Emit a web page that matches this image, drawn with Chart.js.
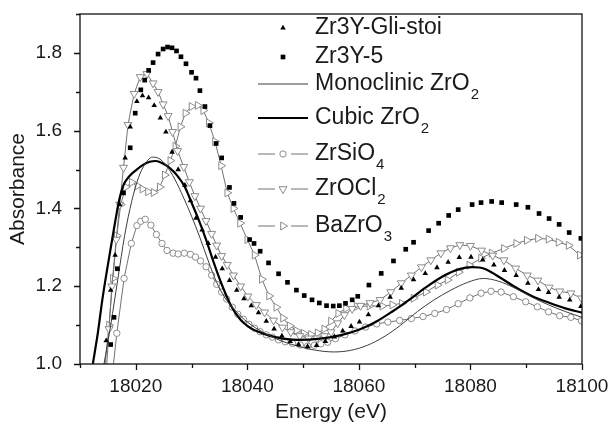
<!DOCTYPE html>
<html lang="en">
<head>
  <meta charset="UTF-8" />
  <title>Zr K-edge XANES</title>
  <script src="https://cdn.jsdelivr.net/npm/chart.js"></script>
  <style>
    html, body { margin: 0; padding: 0; background: #fff; }
    .chart-box { position: relative; width: 612px; height: 425px; }
  </style>
</head>
<body>
  <div class="chart-box"><canvas id="xanesChart"></canvas></div>

  <script>
    // Zr3Y-Gli-stoi (filled triangles)
    const gliE = [18014.7, 18015.5, 18016.3, 18017.1, 18018.1, 18019.0, 18020.2, 18021.2, 18022.3, 18023.3,
      18024.4, 18025.4, 18026.5, 18027.6, 18028.8, 18029.8, 18030.8, 18031.9, 18033.0, 18034.3,
      18035.5, 18036.8, 18038.1, 18039.4, 18040.7, 18042.0, 18043.4, 18044.8, 18046.2, 18047.7,
      18049.2, 18050.8, 18052.4, 18054.0, 18055.6, 18057.1, 18058.6, 18060.1, 18061.7, 18063.5,
      18065.6, 18067.6, 18069.8, 18071.9, 18074.0, 18076.0, 18078.0, 18080.1, 18082.2, 18084.2,
      18086.1, 18088.2, 18090.3, 18092.2, 18094.0, 18095.9, 18097.8, 18099.8];
    const gliA = [1.06, 1.19, 1.28, 1.41, 1.53, 1.61, 1.675, 1.69, 1.685, 1.665,
      1.633, 1.597, 1.545, 1.50, 1.46, 1.42, 1.375, 1.345, 1.31, 1.275,
      1.245, 1.215, 1.19, 1.168, 1.15, 1.132, 1.11, 1.09, 1.072, 1.058,
      1.05, 1.045, 1.048, 1.058, 1.07, 1.085, 1.097, 1.108, 1.127, 1.15,
      1.172, 1.195, 1.217, 1.233, 1.248, 1.262, 1.274, 1.275, 1.268, 1.255,
      1.241, 1.228, 1.208, 1.192, 1.184, 1.172, 1.165, 1.148];

    // Zr3Y-5 (filled squares)
    const y5E = [18015.5, 18016.1, 18016.7, 18017.8, 18019.0, 18019.9, 18020.9, 18021.6, 18022.3, 18023.1,
      18024.0, 18024.9, 18025.7, 18026.5, 18027.3, 18028.1, 18029.0, 18030.0, 18030.8, 18031.5,
      18032.4, 18033.3, 18034.4, 18035.4, 18036.8, 18037.6, 18038.8, 18040.4, 18041.2, 18042.3,
      18043.8, 18045.6, 18047.2, 18048.8, 18050.2, 18051.6, 18052.9, 18054.2, 18055.4, 18056.5,
      18057.6, 18058.8, 18059.8, 18061.8, 18064.0, 18066.2, 18068.4, 18069.8, 18072.5, 18074.3,
      18076.1, 18077.8, 18080.3, 18081.9, 18083.8, 18085.6, 18088.2, 18090.3, 18092.3, 18094.1,
      18095.9, 18097.7, 18099.8];
    const y5A = [1.05, 1.12, 1.245, 1.44, 1.556, 1.645, 1.705, 1.73, 1.755, 1.775,
      1.797, 1.81, 1.815, 1.813, 1.805, 1.79, 1.772, 1.75, 1.735, 1.703,
      1.662, 1.613, 1.567, 1.53, 1.454, 1.413, 1.377, 1.32, 1.31, 1.29,
      1.26, 1.232, 1.21, 1.19, 1.176, 1.165, 1.157, 1.15, 1.149, 1.15,
      1.156, 1.165, 1.174, 1.203, 1.233, 1.265, 1.295, 1.313, 1.343, 1.362,
      1.382, 1.397, 1.41, 1.415, 1.418, 1.415, 1.41, 1.403, 1.387, 1.374,
      1.359, 1.338, 1.323];

    // Monoclinic ZrO2 reference (thin line)
    const monoE = [18014.3, 18015.5, 18016.8, 18018.0, 18019.3, 18020.5, 18021.7, 18023.0, 18024.2, 18025.5,
      18027.0, 18028.5, 18030.0, 18031.5, 18033.0, 18034.5, 18036.0, 18038.0, 18040.0, 18043.0,
      18046.0, 18049.0, 18052.0, 18055.5, 18058.5, 18061.5, 18064.5, 18067.5, 18070.5, 18073.5,
      18076.5, 18079.5, 18082.3, 18085.0, 18088.0, 18091.0, 18094.0, 18097.0, 18100.0];
    const monoA = [1.0, 1.10, 1.22, 1.33, 1.42, 1.48, 1.515, 1.532, 1.528, 1.51,
      1.475, 1.43, 1.38, 1.325, 1.265, 1.21, 1.17, 1.135, 1.108, 1.08,
      1.06, 1.046, 1.036, 1.031, 1.035, 1.048, 1.07, 1.10, 1.135, 1.165,
      1.19, 1.21, 1.22, 1.213, 1.195, 1.172, 1.152, 1.135, 1.12];

    // Cubic ZrO2 reference (thick line)
    const cubicE = [18012.3, 18013.2, 18014.0, 18015.0, 18016.0, 18017.0, 18017.8, 18018.8, 18020.0, 18021.3,
      18022.5, 18023.6, 18024.8, 18026.0, 18027.4, 18028.8, 18030.0, 18031.3, 18032.6, 18034.0,
      18035.4, 18037.0, 18038.7, 18040.5, 18042.5, 18045.0, 18049.0, 18053.5, 18057.0, 18060.0,
      18063.0, 18066.0, 18069.0, 18072.0, 18075.0, 18078.0, 18080.3, 18082.5, 18085.0, 18088.0,
      18091.0, 18094.0, 18097.0, 18100.0];
    const cubicA = [1.0, 1.08, 1.165, 1.255, 1.34, 1.42, 1.46, 1.482, 1.498, 1.512,
      1.52, 1.522, 1.516, 1.505, 1.485, 1.455, 1.415, 1.37, 1.32, 1.26,
      1.205, 1.152, 1.115, 1.093, 1.08, 1.069, 1.062, 1.066, 1.075, 1.088,
      1.108, 1.135, 1.165, 1.197, 1.225, 1.244, 1.249, 1.245, 1.225, 1.198,
      1.175, 1.158, 1.143, 1.132];

    // ZrSiO4 (open circles)
    const sioE = [18016.0, 18016.6, 18017.9, 18019.2, 18020.2, 18020.9, 18021.7, 18022.7, 18023.7, 18024.7,
      18025.6, 18026.7, 18027.6, 18028.7, 18029.8, 18030.7, 18031.6, 18032.6, 18033.6, 18034.5,
      18035.4, 18036.3, 18037.3, 18038.3, 18039.3, 18040.3, 18041.3, 18042.3, 18043.4, 18044.5,
      18045.6, 18046.8, 18048.1, 18049.5, 18050.8, 18052.0, 18053.2, 18054.4, 18055.8, 18057.5,
      18059.3, 18061.2, 18063.2, 18065.2, 18067.3, 18069.4, 18071.5, 18073.6, 18075.7, 18077.8,
      18079.9, 18081.9, 18083.7, 18085.5, 18087.7, 18089.9, 18092.0, 18094.0, 18096.0, 18098.0,
      18099.9];
    const sioA = [1.0, 1.079, 1.22, 1.31, 1.356, 1.367, 1.372, 1.357, 1.333, 1.31,
      1.292, 1.285, 1.283, 1.285, 1.282, 1.275, 1.265, 1.25, 1.228, 1.205,
      1.185, 1.167, 1.146, 1.128, 1.115, 1.102, 1.092, 1.083, 1.075, 1.069,
      1.062, 1.057, 1.053, 1.049, 1.046, 1.048, 1.052, 1.056, 1.065, 1.075,
      1.085, 1.095, 1.103, 1.108, 1.112, 1.117, 1.122, 1.13, 1.14, 1.155,
      1.17, 1.182, 1.187, 1.185, 1.173, 1.16, 1.147, 1.134, 1.124, 1.12,
      1.111];

    // ZrOCl2 (open down triangles)
    const oclE = [18014.8, 18015.2, 18015.7, 18016.5, 18017.1, 18017.8, 18018.6, 18019.7, 18020.8, 18022.0,
      18023.1, 18024.0, 18024.9, 18025.8, 18026.6, 18027.5, 18028.6, 18029.6, 18030.6, 18031.6,
      18032.6, 18033.6, 18034.5, 18035.4, 18036.4, 18037.5, 18038.8, 18040.1, 18041.6, 18043.1,
      18044.7, 18046.3, 18047.8, 18049.4, 18051.0, 18052.5, 18053.8, 18055.0, 18056.2, 18057.4,
      18058.8, 18060.3, 18062.0, 18063.8, 18065.7, 18067.6, 18069.4, 18071.2, 18072.9, 18074.7,
      18076.4, 18078.1, 18080.0, 18082.0, 18084.0, 18086.0, 18088.1, 18090.2, 18092.1, 18094.1,
      18096.0, 18098.0, 18099.9];
    const oclA = [1.0, 1.09, 1.20, 1.32, 1.41, 1.505, 1.615, 1.695, 1.738, 1.746,
      1.722, 1.70, 1.668, 1.638, 1.597, 1.548, 1.507, 1.468, 1.432, 1.40,
      1.368, 1.335, 1.305, 1.278, 1.255, 1.228, 1.20, 1.174, 1.152, 1.133,
      1.112, 1.094, 1.082, 1.072, 1.066, 1.066, 1.072, 1.082, 1.105, 1.126,
      1.142, 1.15, 1.157, 1.165, 1.185, 1.208, 1.228, 1.249, 1.267, 1.285,
      1.298, 1.306, 1.304, 1.292, 1.279, 1.267, 1.246, 1.228, 1.215, 1.197,
      1.187, 1.182, 1.169];

    // BaZrO3 (open right triangles)
    const bzoE = [18014.5, 18015.2, 18015.9, 18016.6, 18017.3, 18018.2, 18019.3, 18020.3, 18021.2, 18022.2,
      18023.2, 18024.3, 18025.2, 18026.2, 18027.1, 18028.0, 18028.9, 18030.0, 18031.1, 18032.1,
      18033.1, 18034.2, 18035.3, 18036.4, 18037.5, 18038.7, 18040.0, 18041.3, 18042.6, 18043.9,
      18045.2, 18046.4, 18047.6, 18048.8, 18050.1, 18051.4, 18052.6, 18053.8, 18055.0, 18056.3,
      18057.7, 18059.6, 18061.9, 18064.2, 18066.0, 18067.7, 18069.8, 18072.0, 18074.1, 18075.9,
      18077.9, 18079.8, 18081.9, 18083.8, 18086.0, 18088.2, 18090.1, 18092.1, 18094.0, 18095.8,
      18097.6, 18099.6];
    const bzoA = [1.0, 1.10, 1.22, 1.33, 1.41, 1.455, 1.467, 1.458, 1.45, 1.443,
      1.441, 1.455, 1.486, 1.523, 1.56, 1.61, 1.645, 1.662, 1.665, 1.652,
      1.62, 1.572, 1.51, 1.44, 1.40, 1.362, 1.32, 1.28, 1.218, 1.175,
      1.146, 1.118, 1.098, 1.086, 1.079, 1.076, 1.08, 1.09, 1.11, 1.13,
      1.143, 1.148, 1.149, 1.149, 1.152, 1.156, 1.169, 1.185, 1.203, 1.216,
      1.236, 1.254, 1.272, 1.285, 1.297, 1.31, 1.318, 1.323, 1.321, 1.313,
      1.305, 1.28];

    const FONT = "'Liberation Sans', Arial, Helvetica, sans-serif";
    const INK = '#1a1a1a';
    const GREY_LINE = '#727272';
    const GREY_MARK = '#8c8c8c';

    // "_" splits a label into body and subscript
    const series = [
      { label: 'Zr3Y-Gli-stoi', e: gliE, a: gliA, kind: 'dots', style: 'triangle', rot: 0, r: 3.2, fill: '#000', edge: '#000' },
      { label: 'Zr3Y-5', e: y5E, a: y5A, kind: 'dots', style: 'rect', rot: 0, r: 3.3, fill: '#000', edge: '#000' },
      { label: 'Monoclinic ZrO_2', e: monoE, a: monoA, kind: 'smooth', line: '#3c3c3c', width: 1 },
      { label: 'Cubic ZrO_2', e: cubicE, a: cubicA, kind: 'smooth', line: '#000', width: 2.2 },
      { label: 'ZrSiO_4', e: sioE, a: sioA, kind: 'marked', style: 'circle', rot: 0, r: 3.2, fill: '#fff', edge: GREY_MARK, line: GREY_LINE, width: 1 },
      { label: 'ZrOCl_2', e: oclE, a: oclA, kind: 'marked', style: 'triangle', rot: 180, r: 4.6, fill: '#fff', edge: GREY_MARK, line: GREY_LINE, width: 1 },
      { label: 'BaZrO_3', e: bzoE, a: bzoA, kind: 'marked', style: 'triangle', rot: 90, r: 4.6, fill: '#fff', edge: GREY_MARK, line: GREY_LINE, width: 1 }
    ];

    const datasets = series.map(s => ({
      label: s.label.replace('_', ''),
      data: s.e.map((e, i) => ({ x: e, y: s.a[i] })),
      showLine: s.kind !== 'dots',
      borderColor: s.line || s.edge,
      borderWidth: s.width || 1,
      pointStyle: s.style || 'circle',
      pointRotation: s.rot || 0,
      // the line start on the baseline carries no marker
      pointRadius: c => (s.style && c.raw && c.raw.y > 1.0) ? s.r : 0,
      pointHoverRadius: 0,
      pointBackgroundColor: s.fill,
      pointBorderColor: s.edge,
      pointBorderWidth: s.kind === 'dots' ? 0 : 1,
      tension: s.kind === 'smooth' ? 0.4 : 0,
      cubicInterpolationMode: s.kind === 'smooth' ? 'monotone' : 'default'
    }));

    // box frame plus outward ticks (long = labelled, short = minor)
    const frameTicks = {
      id: 'frameTicks',
      afterDatasetsDraw(chart) {
        const { ctx, chartArea: a, scales: { x, y } } = chart;
        ctx.save();
        ctx.strokeStyle = '#111';
        ctx.lineWidth = 1.3;
        ctx.strokeRect(a.left, a.top, a.right - a.left, a.bottom - a.top);
        ctx.beginPath();
        x.ticks.forEach(t => {
          const px = Math.round(x.getPixelForValue(t.value)) + 0.5;
          ctx.moveTo(px, a.bottom);
          ctx.lineTo(px, a.bottom + (t.label ? 6 : 4));
        });
        y.ticks.forEach(t => {
          const py = Math.round(y.getPixelForValue(t.value)) + 0.5;
          ctx.moveTo(a.left, py);
          ctx.lineTo(a.left - (t.label ? 6 : 4), py);
        });
        ctx.stroke();
        ctx.restore();
      }
    };

    const legendY = [28, 57, 84, 118, 154, 189, 226];

    function drawLabel(ctx, text, x, y) {
      const [body, sub] = text.split('_');
      ctx.fillStyle = INK;
      ctx.textAlign = 'left';
      ctx.textBaseline = 'middle';
      ctx.font = '23px ' + FONT;
      ctx.fillText(body, x, y);
      if (sub) {
        const w = ctx.measureText(body).width;
        ctx.font = '15px ' + FONT;
        ctx.fillText(sub, x + w + 1, y + 11);
      }
    }

    const sampleLegend = {
      id: 'sampleLegend',
      afterDraw(chart) {
        const ctx = chart.ctx;
        const x0 = 258, x1 = 308, xm = 283, tx = 315;
        series.forEach((s, i) => {
          const yc = legendY[i];
          ctx.save();
          if (s.kind !== 'dots') {
            ctx.strokeStyle = s.line;
            ctx.lineWidth = s.width;
            ctx.beginPath();
            if (s.style) {
              ctx.moveTo(x0, yc); ctx.lineTo(xm - 8, yc);
              ctx.moveTo(xm + 8, yc); ctx.lineTo(x1, yc);
            } else {
              ctx.moveTo(x0, yc); ctx.lineTo(x1, yc);
            }
            ctx.stroke();
          }
          if (s.style) {
            ctx.fillStyle = s.fill;
            ctx.strokeStyle = s.edge;
            ctx.lineWidth = 1;
            Chart.helpers.drawPoint(ctx, {
              pointStyle: s.style, rotation: s.rot, radius: s.r,
              borderWidth: s.kind === 'dots' ? 0 : 1
            }, xm, yc);
          }
          drawLabel(ctx, s.label, tx, yc);
          ctx.restore();
        });
      }
    };

    new Chart(document.getElementById('xanesChart'), {
      type: 'line',
      data: { datasets },
      plugins: [frameTicks, sampleLegend],
      options: {
        responsive: true,
        maintainAspectRatio: false,
        animation: false,
        events: [],
        layout: { padding: { top: 14, right: 30, left: 0, bottom: 0 } },
        plugins: { legend: { display: false }, tooltip: { enabled: false } },
        scales: {
          x: {
            type: 'linear',
            min: 18010,
            max: 18100,
            grid: { display: false, drawTicks: false },
            border: { display: false },
            ticks: {
              stepSize: 10,
              autoSkip: false,
              maxRotation: 0,
              padding: 11,
              color: INK,
              font: { family: FONT, size: 19 },
              callback: v => (v % 20 === 0 ? String(v) : '')
            },
            title: {
              display: true,
              text: 'Energy (eV)',
              color: INK,
              font: { family: FONT, size: 21 },
              padding: { top: 0, bottom: 0 }
            },
            afterFit: s => {
              s.height = 61;
              s.paddingLeft = 0;
              s.paddingRight = 0;
            }
          },
          y: {
            min: 1.0,
            max: 1.9,
            grid: { display: false, drawTicks: false },
            border: { display: false },
            ticks: {
              stepSize: 0.1,
              autoSkip: false,
              padding: 18,
              color: INK,
              font: { family: FONT, size: 19 },
              callback: v => {
                const k = Math.round(v * 10);
                return k % 2 === 0 ? (k / 10).toFixed(1) : '';
              }
            },
            title: {
              display: true,
              text: 'Absorbance',
              color: INK,
              font: { family: FONT, size: 21 },
              padding: { top: 6, bottom: 0 }
            },
            afterFit: s => {
              s.width = 80;
              s.paddingTop = 0;
              s.paddingBottom = 0;
            }
          }
        }
      }
    });
  </script>
</body>
</html>
